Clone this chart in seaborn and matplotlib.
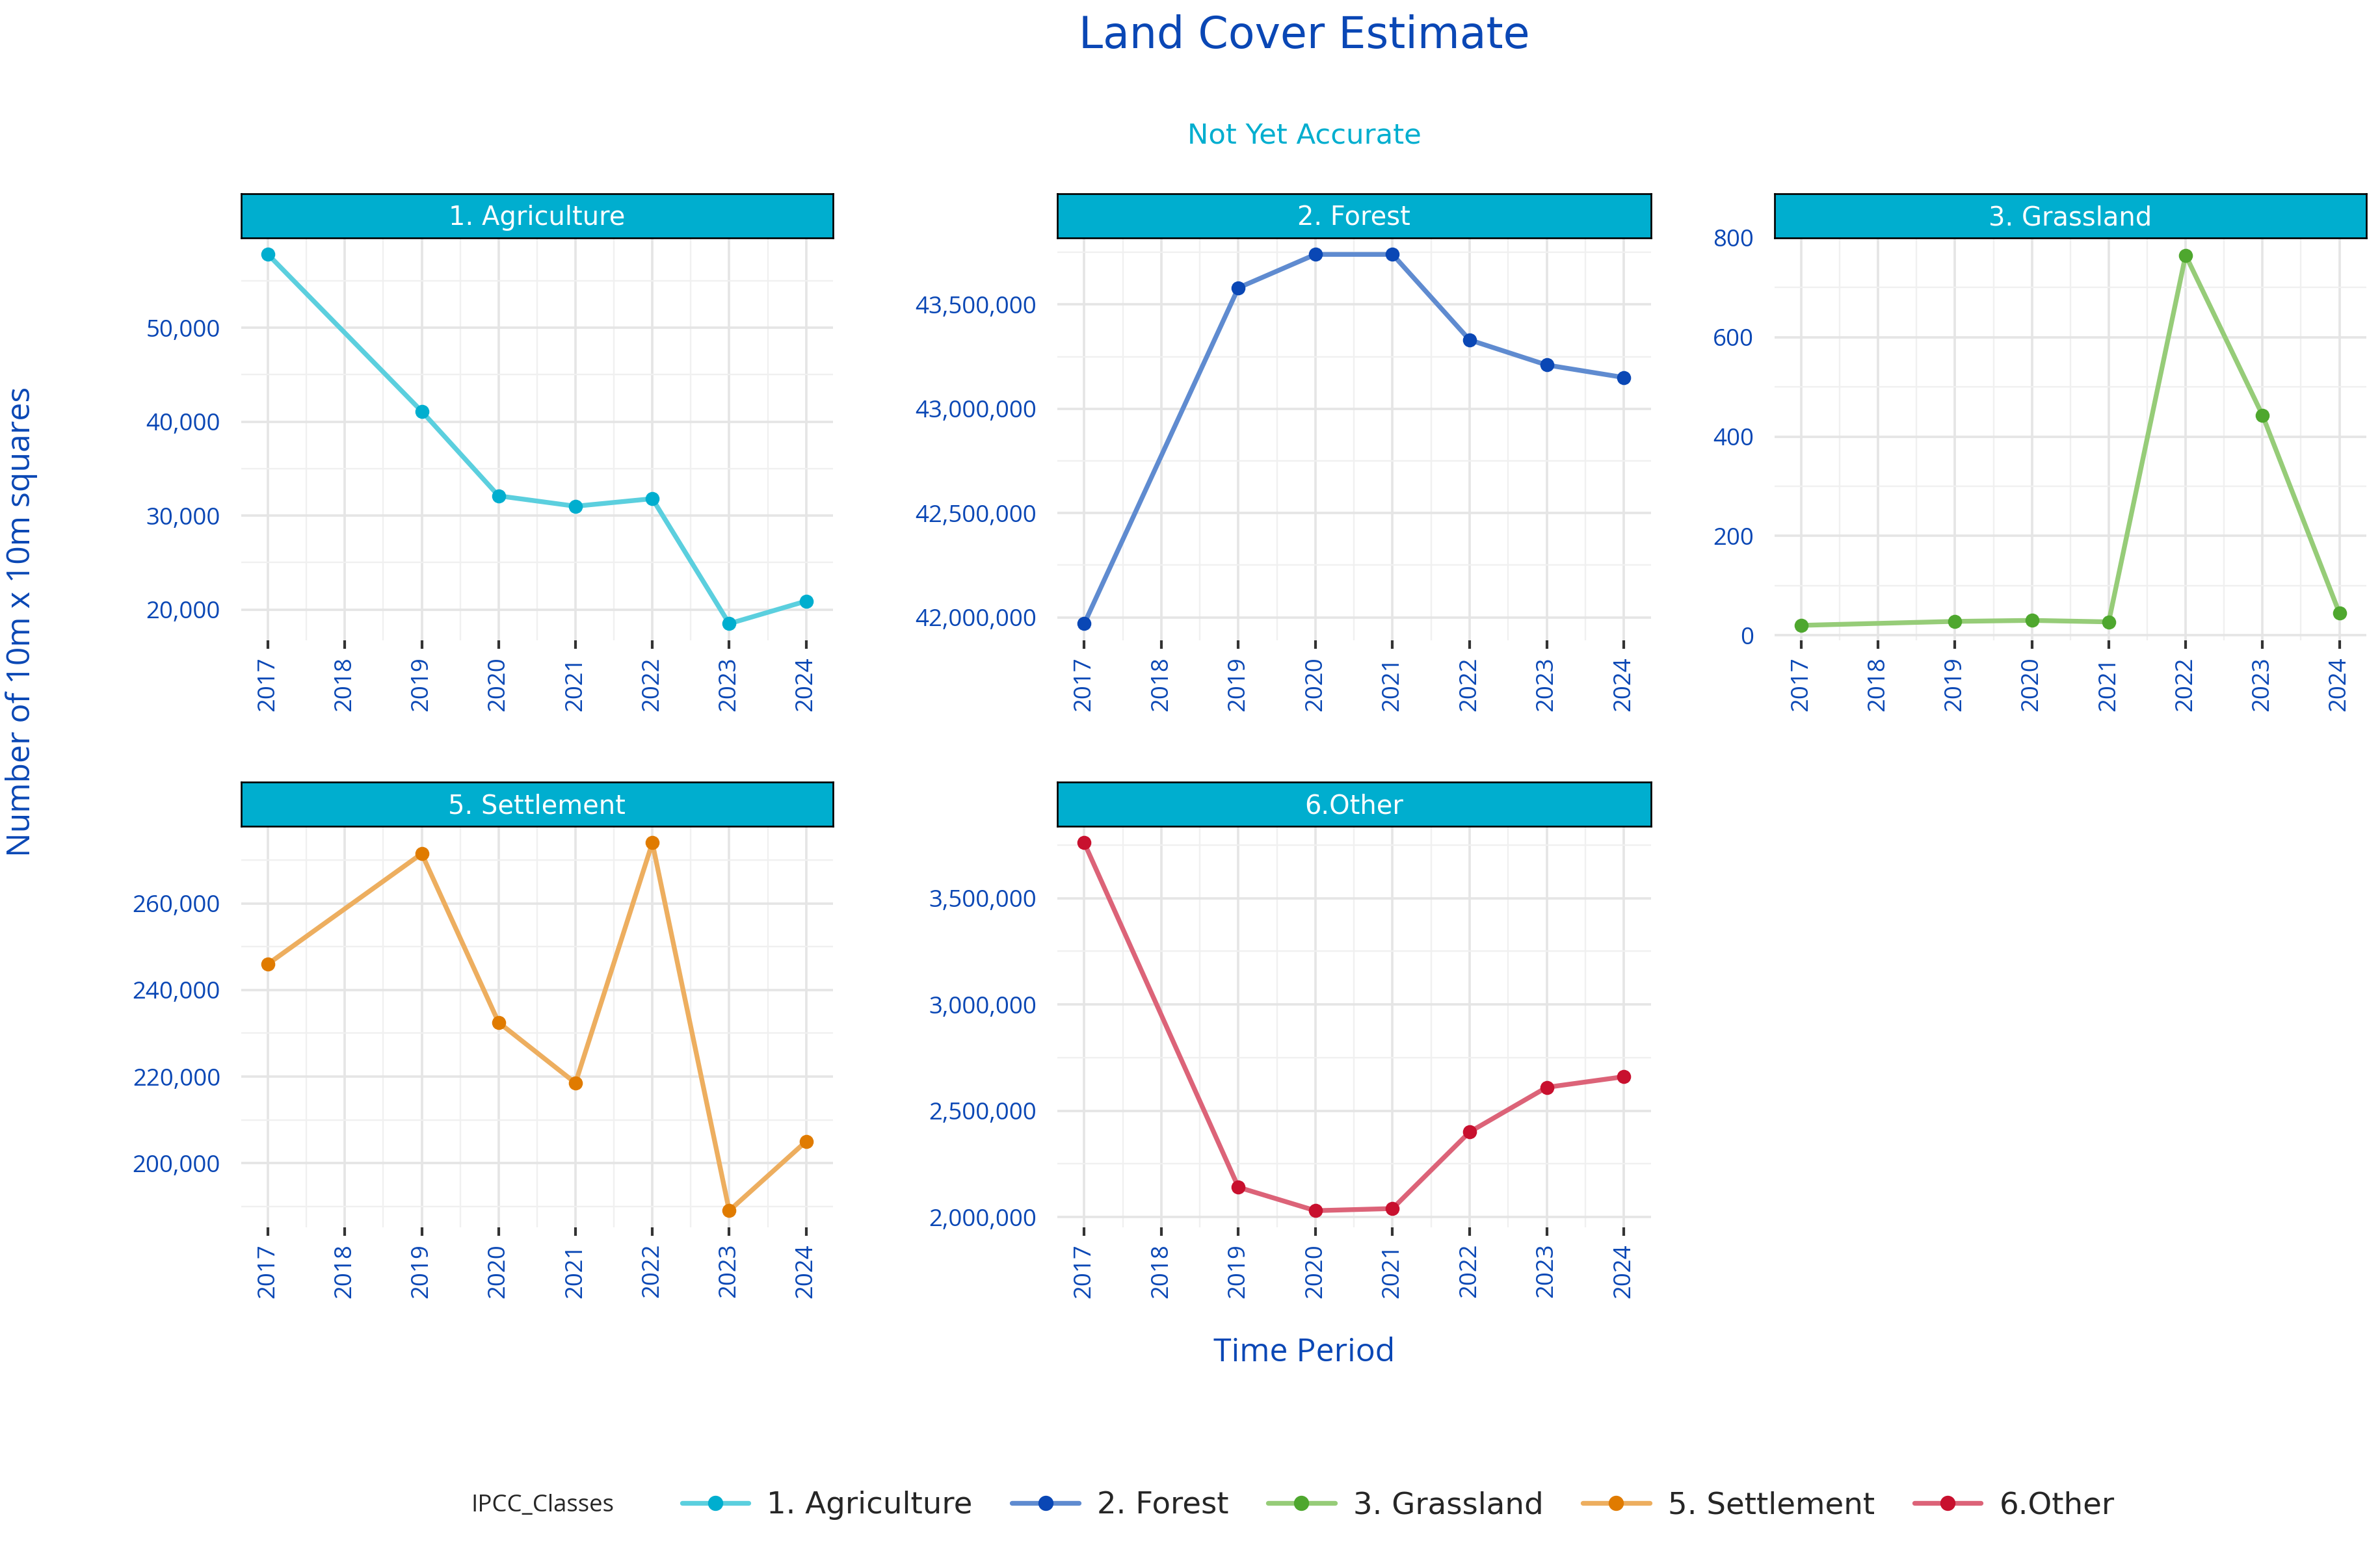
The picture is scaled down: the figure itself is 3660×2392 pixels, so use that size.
import numpy as np
import pandas as pd
import matplotlib.pyplot as plt
import seaborn as sns
from matplotlib.lines import Line2D
from matplotlib.ticker import FuncFormatter, AutoMinorLocator

years = [2017, 2019, 2020, 2021, 2022, 2023, 2024]
classes = ['1. Agriculture', '2. Forest', '3. Grassland', '5. Settlement', '6.Other']
agriculture = [57800, 41100, 32100, 31000, 31800, 18500, 20900]
forest = [41970000, 43580000, 43740000, 43740000, 43330000, 43210000, 43150000]
grassland = [20, 28, 30, 27, 765, 443, 45]
settlement = [246000, 271500, 232500, 218500, 274000, 189000, 205000]
other = [3760000, 2140000, 2030000, 2040000, 2400000, 2610000, 2660000]

values = [agriculture, forest, grassland, settlement, other]
marker_colors = ['#00AECF', '#0A47B5', '#4EA72E', '#E07B00', '#C8102E']
line_colors = ['#5BCFDE', '#5F8BD0', '#96CC78', '#EDAE5F', '#DC6378']
yticks = [[20000, 30000, 40000, 50000],
          [42000000, 42500000, 43000000, 43500000],
          [0, 200, 400, 600, 800],
          [200000, 220000, 240000, 260000],
          [2000000, 2500000, 3000000, 3500000]]

df = pd.DataFrame({
    'year': years * len(classes),
    'value': sum(values, []),
    'cls': np.repeat(classes, len(years)),
})

sns.set_theme(style='whitegrid')
plt.rcParams['font.family'] = ['Open Sans', 'DejaVu Sans']
blue = '#0A47B5'

W, H = 1560, 1020
fig = plt.figure(figsize=(15.25, 9.967), dpi=240)

cols = [(158, 546), (693, 1082), (1163, 1551)]
rows = [(127, 156, 420), (513, 542, 805)]

for i, cls in enumerate(classes):
    r, c = divmod(i, 3)
    x0, x1 = cols[c]
    st, pt, pb = rows[r]
    ax = fig.add_axes([x0 / W, 1 - pb / H, (x1 - x0) / W, (pb - pt) / H])
    sax = fig.add_axes([x0 / W, 1 - pt / H, (x1 - x0) / W, (pt - st) / H])
    sax.set_facecolor('#00AECF')
    sax.set_xticks([]); sax.set_yticks([])
    for s in sax.spines.values():
        s.set_edgecolor('black'); s.set_linewidth(0.8); s.set_visible(True)
    sax.text(0.5, 0.45, cls, ha='center', va='center', color='white', fontsize=12,
             family='DejaVu Sans', transform=sax.transAxes)

    sub = df[df['cls'] == cls]
    sns.lineplot(data=sub, x='year', y='value', ax=ax, color=line_colors[i], lw=2.2)
    ax.scatter(sub['year'], sub['value'], color=marker_colors[i], s=30, zorder=3)
    ax.set_facecolor('white')
    for s in ax.spines.values():
        s.set_visible(False)
    ax.set_xlim(2016.65, 2024.35)
    ax.set_xticks(range(2017, 2025))
    ax.set_xticklabels([str(y) for y in range(2017, 2025)], rotation=90, color=blue, fontsize=11)
    ax.set_yticks(yticks[i])
    ax.yaxis.set_major_formatter(FuncFormatter(lambda v, p: f'{v:,.0f}'))
    ax.tick_params(axis='y', colors=blue, labelsize=11)
    ax.xaxis.set_minor_locator(AutoMinorLocator(2))
    ax.yaxis.set_minor_locator(AutoMinorLocator(2))
    ax.grid(which='major', color='#E5E5E5', lw=1.1)
    ax.grid(which='minor', color='#F0F0F0', lw=0.7)
    ax.tick_params(axis='x', which='major', length=4, color='#333333', bottom=True)
    ax.set_xlabel(''); ax.set_ylabel('')
    if i == 2:
        ax.set_ylim(-10, 800)
    else:
        lo, hi = min(values[i]), max(values[i])
        pad = (hi - lo) * 0.045
        ax.set_ylim(lo - pad, hi + pad)

fig.text(0.548, 0.977, 'Land Cover Estimate', ha='center', va='center', color=blue,
         fontsize=20, family='DejaVu Sans')
fig.text(0.548, 0.913, 'Not Yet Accurate', ha='center', va='center', color='#00AECF',
         fontsize=13, family='DejaVu Sans')
fig.text(0.548, 0.13, 'Time Period', ha='center', va='center', color=blue, fontsize=15)
fig.text(0.009, 0.6, 'Number of 10m x 10m squares', ha='center', va='center', color=blue,
         fontsize=15, rotation=90)

handles = [Line2D([0], [0], color=line_colors[i], lw=2.2, marker='o', markersize=6,
                  markerfacecolor=marker_colors[i], markeredgecolor=marker_colors[i])
           for i in range(len(classes))]
fig.text(0.198, 0.032, 'IPCC_Classes', ha='left', va='center', fontsize=11)
fig.legend(handles, classes, loc='center left', bbox_to_anchor=(0.275, 0.032), ncol=5,
           frameon=False, prop={'family': 'DejaVu Sans', 'size': 14}, handlelength=2.2,
           columnspacing=1.3, handletextpad=0.6)

fig.savefig('out.png', dpi=240, facecolor='white')
